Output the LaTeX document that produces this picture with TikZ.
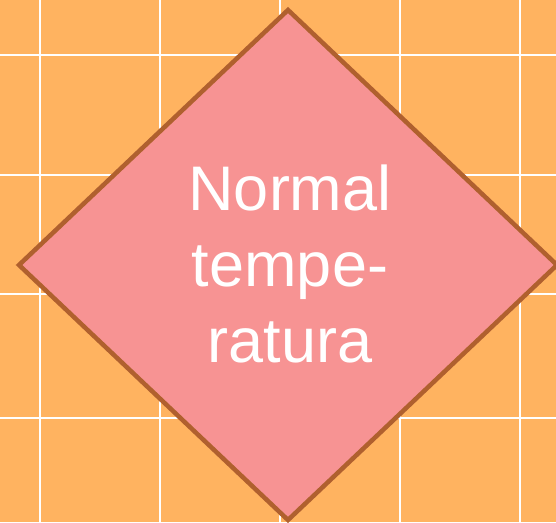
\documentclass[tikz,border=0pt]{standalone}
\usepackage{fontspec}
\setmainfont{Liberation Sans}
\usetikzlibrary{shapes.geometric}
\definecolor{bgorange}{HTML}{FFB360}
\definecolor{diafill}{HTML}{F79393}
\definecolor{diaedge}{HTML}{B0602E}
\tikzset{
  gridline/.style={draw=white, line width=2pt},
  decision/.style={draw=diaedge, fill=diafill, line width=4.5pt, line join=miter}
}
\begin{document}
\begin{tikzpicture}[x=1pt,y=-1pt]
\fill[bgorange] (0,0) rectangle (556,522);
\useasboundingbox (0,0) rectangle (556,522);
\foreach \gx in {40,160,280,400,520} \draw[gridline] (\gx,0) -- (\gx,522);
\foreach \gy in {55,175,294,418} \draw[gridline] (0,\gy) -- (556,\gy);
\coordinate (T) at (288,10);
\coordinate (R) at (557,265);
\coordinate (B) at (288,520);
\coordinate (L) at (19,265);
\draw[decision] (T) -- (R) -- (B) -- (L) -- cycle;
\node[text=white, font=\fontsize{63}{76}\selectfont, align=center, inner sep=0pt] (lbl) at (290,264) {Normal\\tempe-\\ratura};
\end{tikzpicture}
\end{document}
